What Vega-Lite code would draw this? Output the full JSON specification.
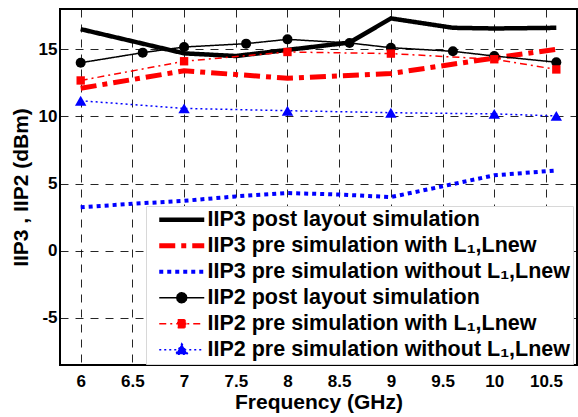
{
  "$schema": "https://vega.github.io/schema/vega-lite/v6.json",
  "width": 517,
  "height": 356,
  "autosize": {"type": "none"},
  "padding": {"left": 60, "top": 9, "right": 1, "bottom": 52},
  "background": "white",
  "config": {
    "view": {"stroke": "#000", "strokeWidth": 2},
    "axis": {
      "labelFont": "Liberation Sans", "labelFontWeight": "bold", "labelFontSize": 17, "labelColor": "#000",
      "titleFont": "Liberation Sans", "titleFontWeight": "bold", "titleFontSize": 21, "titleColor": "#000",
      "domain": false, "ticks": false, "grid": true, "gridColor": "#000", "gridDash": [8, 7], "gridWidth": 1, "gridOpacity": 0.85
    },
    "legend": {
      "labelFont": "Liberation Sans", "labelFontWeight": "bold", "labelFontSize": 21.5, "labelColor": "#000", "labelLimit": 600
    }
  },
  "data": {
    "values": [
      {"series": "IIP3 post layout simulation", "f": 6.0, "v": 16.5},
      {"series": "IIP3 post layout simulation", "f": 7.0, "v": 14.7},
      {"series": "IIP3 post layout simulation", "f": 7.5, "v": 14.5},
      {"series": "IIP3 post layout simulation", "f": 8.6, "v": 15.5},
      {"series": "IIP3 post layout simulation", "f": 9.0, "v": 17.3},
      {"series": "IIP3 post layout simulation", "f": 9.6, "v": 16.6},
      {"series": "IIP3 post layout simulation", "f": 10.0, "v": 16.55},
      {"series": "IIP3 post layout simulation", "f": 10.6, "v": 16.6},
      {"series": "IIP3 pre simulation with L₁,Lnew", "f": 6.0, "v": 12.1},
      {"series": "IIP3 pre simulation with L₁,Lnew", "f": 7.0, "v": 13.4},
      {"series": "IIP3 pre simulation with L₁,Lnew", "f": 8.0, "v": 12.85},
      {"series": "IIP3 pre simulation with L₁,Lnew", "f": 9.0, "v": 13.2},
      {"series": "IIP3 pre simulation with L₁,Lnew", "f": 10.0, "v": 14.35},
      {"series": "IIP3 pre simulation with L₁,Lnew", "f": 10.6, "v": 15.0},
      {"series": "IIP3 pre simulation without L₁,Lnew", "f": 6.0, "v": 3.24},
      {"series": "IIP3 pre simulation without L₁,Lnew", "f": 6.5, "v": 3.5},
      {"series": "IIP3 pre simulation without L₁,Lnew", "f": 7.0, "v": 3.72},
      {"series": "IIP3 pre simulation without L₁,Lnew", "f": 7.5, "v": 4.05},
      {"series": "IIP3 pre simulation without L₁,Lnew", "f": 8.0, "v": 4.3},
      {"series": "IIP3 pre simulation without L₁,Lnew", "f": 8.5, "v": 4.19},
      {"series": "IIP3 pre simulation without L₁,Lnew", "f": 9.0, "v": 4.0},
      {"series": "IIP3 pre simulation without L₁,Lnew", "f": 9.5, "v": 4.8},
      {"series": "IIP3 pre simulation without L₁,Lnew", "f": 10.0, "v": 5.62},
      {"series": "IIP3 pre simulation without L₁,Lnew", "f": 10.6, "v": 5.98},
      {"series": "IIP2 post layout simulation", "f": 6.0, "v": 14.0},
      {"series": "IIP2 post layout simulation", "f": 6.6, "v": 14.75},
      {"series": "IIP2 post layout simulation", "f": 7.0, "v": 15.17},
      {"series": "IIP2 post layout simulation", "f": 7.6, "v": 15.42},
      {"series": "IIP2 post layout simulation", "f": 8.0, "v": 15.74},
      {"series": "IIP2 post layout simulation", "f": 8.6, "v": 15.47},
      {"series": "IIP2 post layout simulation", "f": 9.0, "v": 15.12},
      {"series": "IIP2 post layout simulation", "f": 9.6, "v": 14.85},
      {"series": "IIP2 post layout simulation", "f": 10.0, "v": 14.5},
      {"series": "IIP2 post layout simulation", "f": 10.6, "v": 14.04},
      {"series": "IIP2 pre simulation with L₁,Lnew", "f": 6.0, "v": 12.68},
      {"series": "IIP2 pre simulation with L₁,Lnew", "f": 7.0, "v": 14.11},
      {"series": "IIP2 pre simulation with L₁,Lnew", "f": 8.0, "v": 14.8},
      {"series": "IIP2 pre simulation with L₁,Lnew", "f": 9.0, "v": 14.68},
      {"series": "IIP2 pre simulation with L₁,Lnew", "f": 10.0, "v": 14.26},
      {"series": "IIP2 pre simulation with L₁,Lnew", "f": 10.6, "v": 13.5},
      {"series": "IIP2 pre simulation without L₁,Lnew", "f": 6.0, "v": 11.17},
      {"series": "IIP2 pre simulation without L₁,Lnew", "f": 7.0, "v": 10.6},
      {"series": "IIP2 pre simulation without L₁,Lnew", "f": 8.0, "v": 10.43},
      {"series": "IIP2 pre simulation without L₁,Lnew", "f": 9.0, "v": 10.28},
      {"series": "IIP2 pre simulation without L₁,Lnew", "f": 10.0, "v": 10.19},
      {"series": "IIP2 pre simulation without L₁,Lnew", "f": 10.6, "v": 10.04}
    ]
  },
  "encoding": {
    "x": {
      "field": "f", "type": "quantitative",
      "scale": {"domain": [5.8, 10.8], "nice": false, "zero": false},
      "axis": {"values": [6, 6.5, 7, 7.5, 8, 8.5, 9, 9.5, 10, 10.5], "format": "~g", "title": "Frequency (GHz)", "labelPadding": 8, "titlePadding": 2, "labelFlush": false}
    },
    "y": {
      "field": "v", "type": "quantitative",
      "scale": {"domain": [-8.5, 18], "nice": false, "zero": false},
      "axis": {"values": [-5, 0, 5, 10, 15], "labelExpr": "replace(datum.label, '−', '-')", "title": "IIP3 , IIP2 (dBm)", "labelPadding": 3, "titlePadding": 7}
    }
  },
  "layer": [
    {
      "mark": {"type": "line", "clip": true},
      "encoding": {
        "color": {
          "field": "series", "type": "nominal",
          "scale": {
            "domain": ["IIP3 post layout simulation", "IIP3 pre simulation with L₁,Lnew", "IIP3 pre simulation without L₁,Lnew", "IIP2 post layout simulation", "IIP2 pre simulation with L₁,Lnew", "IIP2 pre simulation without L₁,Lnew"],
            "range": ["#000000", "#ff0000", "#0000ff", "#000000", "#ff0000", "#0000ff"]
          },
          "legend": {
            "title": null,
            "orient": "none",
            "legendX": 86,
            "legendY": 197,
            "fillColor": "white",
            "strokeColor": "#d8d8d8",
            "padding": 3,
            "rowPadding": 3,
            "symbolSize": 100,
            "symbolOffset": 22,
            "labelOffset": 15,
            "encode": {
              "symbols": {
                "update": {
                  "shape": {"signal": "indexof(datum.value,'IIP2 post')==0 ? 'M-4.5,0L4.5,0M1,0L0.866,0.5L0.5,0.866L0,1L-0.5,0.866L-0.866,0.5L-1,0L-0.866,-0.5L-0.5,-0.866L0,-1L0.5,-0.866L0.866,-0.5Z' : (indexof(datum.value,'IIP2 pre simulation with ')==0 ? 'M-4.5,0L4.5,0M-0.8,-0.8L0.8,-0.8L0.8,0.8L-0.8,0.8Z' : (indexof(datum.value,'IIP2 pre simulation without')==0 ? 'M-4.5,0L4.5,0M0,-1.2L1.2,0.9L-1.2,0.9Z' : 'M-4.5,0L4.5,0'))"},
                  "fill": {"scale": "color", "field": "value"},
                  "fillOpacity": {"value": 1},
                  "opacity": {"value": 1}
                }
              }
            }
          }
        },
        "strokeDash": {
          "field": "series", "type": "nominal",
          "scale": {
            "domain": ["IIP3 post layout simulation", "IIP3 pre simulation with L₁,Lnew", "IIP3 pre simulation without L₁,Lnew", "IIP2 post layout simulation", "IIP2 pre simulation with L₁,Lnew", "IIP2 pre simulation without L₁,Lnew"],
            "range": [[1, 0], [16, 6, 5, 6], [4, 4], [1, 0], [7, 4, 2, 4], [2, 3]]
          }
        },
        "strokeWidth": {
          "field": "series", "type": "nominal",
          "scale": {
            "type": "ordinal",
            "domain": ["IIP3 post layout simulation", "IIP3 pre simulation with L₁,Lnew", "IIP3 pre simulation without L₁,Lnew", "IIP2 post layout simulation", "IIP2 pre simulation with L₁,Lnew", "IIP2 pre simulation without L₁,Lnew"],
            "range": [4.5, 5, 4, 1.5, 1.5, 1.5]
          }
        }
      }
    },
    {
      "transform": [{"filter": "indexof(datum.series, 'IIP2') == 0"}],
      "mark": {"type": "point", "filled": true, "opacity": 1},
      "encoding": {
        "color": {"field": "series", "type": "nominal"},
        "shape": {
          "field": "series", "type": "nominal",
          "scale": {
            "domain": ["IIP2 post layout simulation", "IIP2 pre simulation with L₁,Lnew", "IIP2 pre simulation without L₁,Lnew"],
            "range": ["circle", "square", "triangle-up"]
          },
          "legend": null
        },
        "size": {
          "field": "series", "type": "nominal",
          "scale": {
            "type": "ordinal",
            "domain": ["IIP2 post layout simulation", "IIP2 pre simulation with L₁,Lnew", "IIP2 pre simulation without L₁,Lnew"],
            "range": [100, 70, 130]
          },
          "legend": null
        }
      }
    }
  ]
}
